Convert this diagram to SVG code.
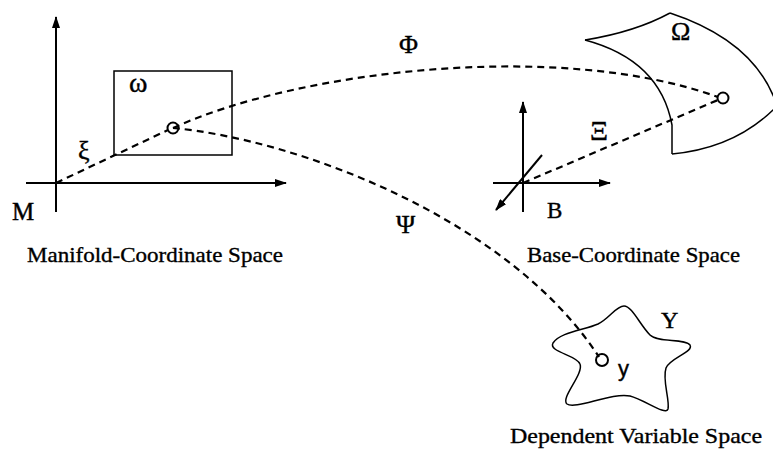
<svg xmlns="http://www.w3.org/2000/svg" width="773" height="456" viewBox="0 0 773 456">
<style>
.axis{stroke:#000;stroke-width:2;fill:none}
.dash{stroke:#000;stroke-width:2.2;fill:none;stroke-dasharray:7 5}
.shape{stroke:#000;stroke-width:1.5;fill:none}
.pt{stroke:#000;stroke-width:2;fill:none}
.lbl{font-family:"Liberation Serif","Times New Roman",serif;font-size:21px;fill:#000;stroke:#000;stroke-width:0.35}
.sym{font-family:"Liberation Serif","Times New Roman",serif;fill:#000;stroke:#000;stroke-width:0.4}
</style>
<defs>
<marker id="arr" markerUnits="userSpaceOnUse" markerWidth="12" markerHeight="8" refX="11" refY="4" orient="auto">
<path d="M0,0 L12,4 L0,8 Z" fill="#000"/>
</marker>
</defs>
<rect width="773" height="456" fill="#fff"/>

<g id="manifold-space">
<line class="axis" x1="56" y1="212" x2="56" y2="17" marker-end="url(#arr)"/>
<line class="axis" x1="26" y1="183" x2="286" y2="183" marker-end="url(#arr)"/>
<text class="sym" x="12" y="220" font-size="25">M</text>
<rect class="shape" x="114" y="71" width="118" height="84"/>
<text class="sym" x="129" y="92" font-size="28">ω</text>
<circle class="pt" cx="173" cy="128" r="5.5"/>
<text class="sym" x="78" y="159" font-size="26">ξ</text>
<text class="lbl" x="27" y="262" textLength="256" lengthAdjust="spacingAndGlyphs">Manifold-Coordinate Space</text>
</g>

<g id="base-space">
<line class="axis" x1="523" y1="212" x2="523" y2="102" marker-end="url(#arr)"/>
<line class="axis" x1="493" y1="183" x2="610" y2="183" marker-end="url(#arr)"/>
<line class="axis" x1="542" y1="155" x2="496" y2="210" marker-end="url(#arr)"/>
<text class="sym" x="547" y="218" font-size="23">B</text>
<path class="shape" d="M585,40 Q635,32 670,13"/>
<path class="shape" d="M670,13 Q752,40 775,100"/>
<path class="shape" d="M672,154 Q735,148 775,108"/>
<path class="shape" d="M585,40 Q660,60 672,125 L672,154"/>
<text class="sym" x="671" y="40" font-size="26">Ω</text>
<circle class="pt" cx="723" cy="98" r="5.5"/>
<text class="sym" x="590" y="140" font-size="28">Ξ</text>
<text class="lbl" x="527" y="262" textLength="213" lengthAdjust="spacingAndGlyphs">Base-Coordinate Space</text>
</g>

<g id="dependent-space">
<path class="shape" d="M553,343 C560,332 585,330 598,324 C610,318 616,306 624,306 C632,306 640,325 650,335 C658,343 685,338 690,345 C694,352 670,358 666,368 C662,380 670,400 668,409 C666,416 645,400 630,396 C612,392 575,410 567,404 C560,398 584,374 580,364 C577,355 548,352 553,343 Z"/>
<text class="sym" x="661" y="328" font-size="24">Y</text>
<circle class="pt" cx="602" cy="360" r="6"/>
<text x="618" y="376" font-family="Liberation Sans, Arial, sans-serif" font-size="22" stroke="#000" stroke-width="0.4">y</text>
<text class="lbl" x="510" y="443" textLength="252" lengthAdjust="spacingAndGlyphs">Dependent Variable Space</text>
</g>

<g id="connectors">
<line class="dash" x1="56" y1="183" x2="168" y2="130"/>
<path class="dash" d="M173,128 C300,70 560,40 718,97"/>
<line class="dash" x1="523" y1="183" x2="718" y2="100"/>
<path class="dash" d="M173,128 C300,140 510,220 599,357"/>
<text class="sym" x="399" y="53" font-size="26">Φ</text>
<text class="sym" x="396" y="233" font-size="26">Ψ</text>
</g>
</svg>
